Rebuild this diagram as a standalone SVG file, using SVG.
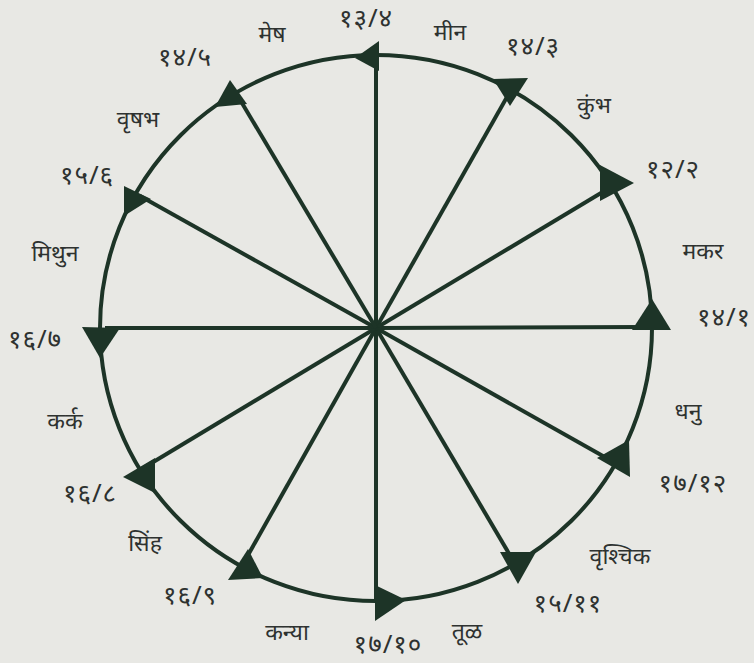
<svg xmlns="http://www.w3.org/2000/svg" width="754" height="663" viewBox="0 0 754 663">
<style>
.bg{fill:#e8e8e4}
.ln{stroke:#1d3427;stroke-width:4;fill:none;stroke-linecap:butt}
.tri{fill:#1d3427}
.t{font-family:"Noto Sans","Noto Sans Devanagari","Lohit Devanagari","FreeSans",sans-serif;font-size:23px;fill:#2e3230;text-anchor:middle;dominant-baseline:central}
.n{font-size:26px;letter-spacing:1px}
</style>
<rect class="bg" x="0" y="0" width="754" height="663"/>
<g id="connectors">
<ellipse class="ln" cx="376" cy="328" rx="276" ry="273"/>
<line class="ln" x1="376" y1="328" x2="376" y2="55"/>
<line class="ln" x1="376" y1="328" x2="511" y2="90"/>
<line class="ln" x1="376" y1="328" x2="606" y2="190"/>
<line class="ln" x1="376" y1="328" x2="645" y2="327"/>
<line class="ln" x1="376" y1="328" x2="610" y2="460"/>
<line class="ln" x1="376" y1="328" x2="514" y2="562"/>
<line class="ln" x1="376" y1="328" x2="376" y2="600"/>
<line class="ln" x1="376" y1="328" x2="243" y2="564"/>
<line class="ln" x1="376" y1="328" x2="140" y2="470"/>
<line class="ln" x1="376" y1="328" x2="105" y2="328"/>
<line class="ln" x1="376" y1="328" x2="140" y2="196"/>
<line class="ln" x1="376" y1="328" x2="236" y2="93"/>
</g>
<g id="n13-4"><polygon class="tri" points="379,41 355,58 379,71"/><text class="t n" x="366" y="17">१३/४</text><text class="t" x="272" y="33">मेष</text></g>
<g id="n14-3"><polygon class="tri" points="493,79 528,78 510,106"/><text class="t n" x="533" y="45">१४/३</text><text class="t" x="450" y="31">मीन</text></g>
<g id="n12-2"><polygon class="tri" points="600,165 634,183 600,201"/><text class="t n" x="673" y="168">१२/२</text><text class="t" x="594" y="104">कुंभ</text></g>
<g id="n14-1"><polygon class="tri" points="652,299 632,330 671,330"/><text class="t n" x="724" y="316">१४/१</text><text class="t" x="703" y="250">मकर</text></g>
<g id="n17-12"><polygon class="tri" points="597,458 629,440 630,477"/><text class="t n" x="693" y="482">१७/१२</text><text class="t" x="688" y="410">धनु</text></g>
<g id="n15-11"><polygon class="tri" points="500,552 536,552 518,584"/><text class="t n" x="568" y="602">१५/११</text><text class="t" x="620" y="555">वृश्चिक</text></g>
<g id="n17-10"><polygon class="tri" points="375,585 406,600 375,621"/><text class="t n" x="388" y="643">१७/१०</text><text class="t" x="467" y="630">तूळ</text></g>
<g id="n16-9"><polygon class="tri" points="248,549 228,580 263,578"/><text class="t n" x="190" y="594">१६/९</text><text class="t" x="287" y="631">कन्या</text></g>
<g id="n16-8"><polygon class="tri" points="123,477 155,458 155,493"/><text class="t n" x="90" y="492">१६/८</text><text class="t" x="145" y="542">सिंह</text></g>
<g id="n16-7"><polygon class="tri" points="82,327 120,328 100,358"/><text class="t n" x="35" y="338">१६/७</text><text class="t" x="65" y="420">कर्क</text></g>
<g id="n15-6"><polygon class="tri" points="124,186 151,199 124,216"/><text class="t n" x="87" y="174">१५/६</text><text class="t" x="55" y="252">मिथुन</text></g>
<g id="n14-5"><polygon class="tri" points="230,80 215,107 247,104"/><text class="t n" x="185" y="56">१४/५</text><text class="t" x="138" y="118">वृषभ</text></g>
</svg>
